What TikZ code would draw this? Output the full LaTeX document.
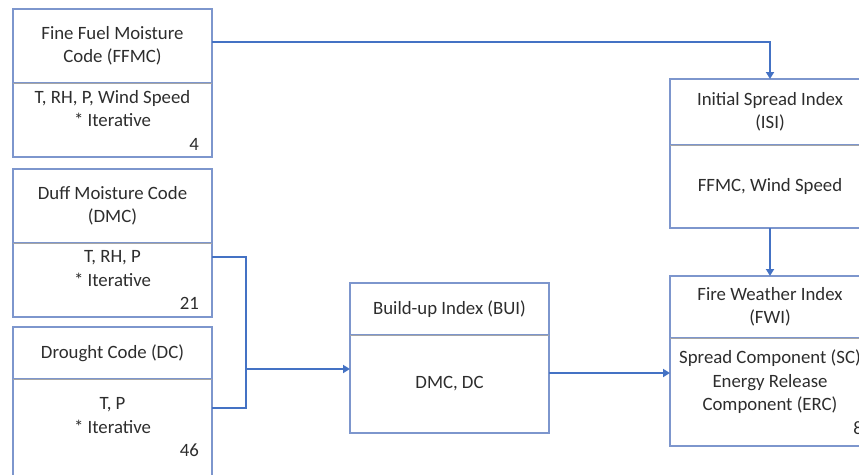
\documentclass[tikz,border=0pt]{standalone}
\usepackage{fontspec}
\setmainfont{Carlito}
\usepackage{tikz}
\usetikzlibrary{arrows.meta,positioning,calc}
\frenchspacing
\definecolor{azul}{RGB}{68,114,196}
\definecolor{borde}{RGB}{125,150,205}
\definecolor{grisd}{RGB}{165,165,165}
\definecolor{texto}{RGB}{45,45,45}
\tikzset{
  cab/.style={draw=borde, line width=1.1pt, outer sep=0pt, align=center, minimum width=199pt, text=texto, font=\fontsize{18.8}{23.5}\selectfont},
  cuerpo/.style={cab, align=flush center, text width=173pt, inner xsep=13pt},
  div/.style={grisd, line width=1pt},
  fl/.style={-{Triangle[length=7pt,width=8pt]}, line width=2pt, azul},
  lin/.style={line width=2pt, azul},
}

\begin{document}
\begin{tikzpicture}[x=1pt, y=-1pt, node distance=0pt]
  \useasboundingbox (0,0) rectangle (859,474);
  \clip (0,0) rectangle (859,474);
  % left column
  \node[cab, minimum height=74pt] (ffmc) at (112.5,46) {Fine Fuel Moisture\\Code (FFMC)};
  \node[cuerpo, minimum height=74pt, below=of ffmc] (ffmcb) {T, RH, P, Wind Speed\\{*} Iterative\hspace*{16pt}\\\hspace*{\fill}4};
  \node[cab, minimum height=74pt] (dmc) at (112.5,206) {Duff Moisture Code\\(DMC)};
  \node[cuerpo, minimum height=74pt, below=of dmc] (dmcb) {T, RH, P\\{*} Iterative\\\hspace*{\fill}21};
  \node[cab, minimum height=52pt] (dc) at (112.5,353) {Drought Code (DC)};
  \node[cuerpo, minimum height=97pt, below=of dc] (dcb) {T, P\\{*} Iterative\\\hspace*{\fill}46};
  % middle
  \node[cab, minimum height=52pt] (bui) at (449.5,309) {Build-up Index (BUI)};
  \node[cuerpo, minimum height=98pt, below=of bui] (buib) {DMC, DC};
  % right column
  \node[cab, minimum width=200pt, minimum height=66pt] (isi) at (770,112) {Initial Spread Index\\(ISI)};
  \node[cuerpo, minimum height=83pt, text width=174pt, below=of isi] (isib) {FFMC, Wind Speed};
  \node[cab, minimum width=200pt, minimum height=62pt] (fwi) at (770,307) {Fire Weather Index\\(FWI)};
  \node[cuerpo, minimum height=108pt, text width=186pt, inner xsep=7pt, below=of fwi] (fwib) {Spread Component (SC)\\Energy Release\\Component (ERC)\\\hspace*{\fill}8};
  \foreach \n in {ffmc,dmc,dc,bui,isi,fwi}
    \draw[div] (\n.south west) -- (\n.south east);
  % connectors
  \coordinate (junta) at (246,369);
  \draw[fl] ([yshift=4pt]ffmc.east) -| (isi.north);
  \draw[lin] ([yshift=23pt]dmcb.east) -| (junta) |- ([yshift=19.5pt]dcb.east);
  \draw[fl] (junta) -- (junta -| buib.west);
  \draw[fl] ([yshift=11pt]buib.east) -- ([yshift=11pt]buib.east -| fwib.west);
  \draw[fl] (isib.south) -- (fwi.north);
\end{tikzpicture}
\end{document}
